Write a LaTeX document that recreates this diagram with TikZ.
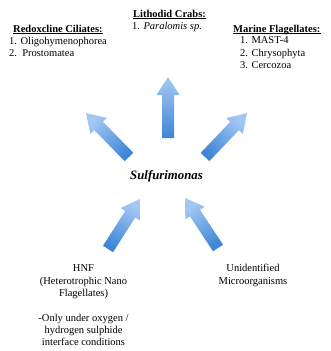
\documentclass[tikz,border=0pt]{standalone}
\usepackage{fontspec}
\setmainfont{Liberation Serif}
\usetikzlibrary{calc}
\definecolor{arrowlight}{RGB}{165,200,243}
\definecolor{arrowdark}{RGB}{62,134,214}
\tikzset{
  txt/.style={inner sep=0pt, font=\fontsize{10.5}{12.3}\selectfont},
  txtl/.style={txt, anchor=base west},
  txtc/.style={txt, anchor=base},
  titletxt/.style={txtl, font=\fontsize{10.5}{12.3}\selectfont\bfseries},
  uline/.style={line width=0.6pt},
  blockfill/.style={top color=arrowlight, bottom color=arrowdark, draw=none},
}
% #1 name, #2 tail, #3 tip, #4 shading angle
\newcommand\blockarrow[4]{%
  \coordinate (#1h) at ($(#3)!18pt!(#2)$);
  \shade[blockfill, shading angle=#4]
    ($(#2)!6pt!90:(#3)$) -- ($(#1h)!6pt!90:(#3)$) -- ($(#1h)!11.5pt!90:(#3)$)
    -- (#3) -- ($(#1h)!11.5pt!-90:(#3)$) -- ($(#1h)!6pt!-90:(#3)$)
    -- ($(#2)!6pt!-90:(#3)$) -- cycle;
}
\newcommand\ulnode[1]{%
  \draw[uline] ([yshift=-1.6pt]#1.base west) -- ([yshift=-1.6pt]#1.base east);
}
\begin{document}
\begin{tikzpicture}[x=1pt,y=-1pt]
\useasboundingbox (0,0) rectangle (330,351);
% centre
\node[inner sep=0pt, anchor=base, font=\fontsize{12.8}{14}\selectfont\bfseries\itshape] (S) at (166.5,179.5) {Sulfurimonas};
% arrow ends
\coordinate (tT) at (168,138); \coordinate (hT) at (168,77);
\coordinate (tUL) at (129,157); \coordinate (hUL) at (86,113);
\coordinate (tUR) at (205,157); \coordinate (hUR) at (247,113);
\coordinate (tLL) at (108,249); \coordinate (hLL) at (140,199);
\coordinate (tLR) at (218,248); \coordinate (hLR) at (185,198);
\blockarrow{aT}{tT}{hT}{0}
\blockarrow{aUL}{tUL}{hUL}{43.7}
\blockarrow{aUR}{tUR}{hUR}{-43.7}
\blockarrow{aLL}{tLL}{hLL}{-30.5}
\blockarrow{aLR}{tLR}{hLR}{35}
% Redoxcline Ciliates
\node[titletxt] (rc0) at (13,32) {Redoxcline Ciliates:};
\ulnode{rc0}
\node[txtl] (rc1) at (9,44.6) {1. Oligohymenophorea};
\node[txtl] (rc2) at (9,56.2) {2.\ \ Prostomatea};
% Lithodid Crabs
\node[titletxt] (lc0) at (133,17) {Lithodid Crabs:};
\ulnode{lc0}
\node[txtl] (lc1) at (132,29.6) {1. \textit{Paralomis sp.}};
% Marine Flagellates
\node[titletxt] (mf0) at (233,32) {Marine Flagellates:};
\ulnode{mf0}
\node[txtl] (mf1) at (240,43.6) {1. MAST-4};
\node[txtl] (mf2) at (240,56.2) {2. Chrysophyta};
\node[txtl] (mf3) at (240,68.6) {3. Cercozoa};
% HNF
\node[txtc] (h1) at (83.5,271.7) {HNF};
\node[txtc] (h2) at (83.5,284.3) {(Heterotrophic Nano};
\node[txtc] (h3) at (83.5,296.7) {Flagellates)};
\node[txtc] (h4) at (83.5,321.7) {-Only under oxygen /};
\node[txtc] (h5) at (83.5,333.6) {hydrogen sulphide};
\node[txtc] (h6) at (83.5,345.5) {interface conditions};
% Unidentified
\node[txtc] (u1) at (253,271.7) {Unidentified};
\node[txtc] (u2) at (253,284.3) {Microorganisms};
\end{tikzpicture}
\end{document}
